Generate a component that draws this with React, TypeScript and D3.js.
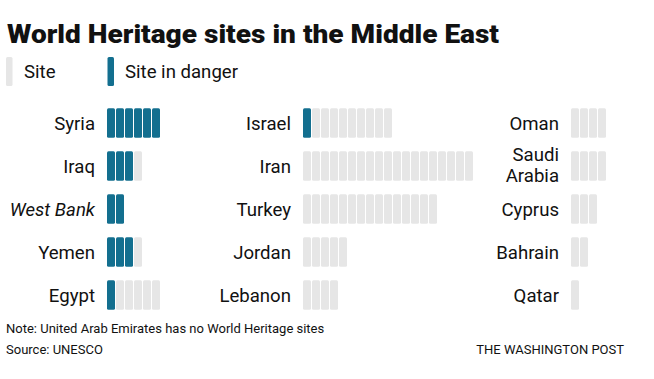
import React from "react";
import * as d3 from "d3";

const col1 = ["Syria", "Iraq", "West Bank", "Yemen", "Egypt"];
const col2 = ["Israel", "Iran", "Turkey", "Jordan", "Lebanon"];
const col3 = ["Oman", "Saudi Arabia", "Cyprus", "Bahrain", "Qatar"];

const totalSites: Record<string, number> = {
  Syria: 6, Iraq: 4, "West Bank": 2, Yemen: 4, Egypt: 6,
  Israel: 10, Iran: 19, Turkey: 15, Jordan: 5, Lebanon: 4,
  Oman: 4, "Saudi Arabia": 4, Cyprus: 3, Bahrain: 2, Qatar: 1,
};
const dangerSites: Record<string, number> = {
  Syria: 6, Iraq: 3, "West Bank": 2, Yemen: 3, Egypt: 1,
  Israel: 1, Iran: 0, Turkey: 0, Jordan: 0, Lebanon: 0,
  Oman: 0, "Saudi Arabia": 0, Cyprus: 0, Bahrain: 0, Qatar: 0,
};

const BLUE = "#136f8f";
const GREY = "#e6e6e6";
const FONT = "Roboto, 'Noto Sans', sans-serif";
const LABEL = 18.6;

const columns = [
  { names: col1, labelRight: 95, barStart: 107 },
  { names: col2, labelRight: 291, barStart: 303 },
  { names: col3, labelRight: 559, barStart: 571 },
];

export default function App() {
  const y = d3.scaleBand<number>().domain([0, 1, 2, 3, 4]).range([101.5, 316.5]);
  const xi = d3.scaleLinear().domain([0, 1]).range([0, 9]);
  const barW = 8;
  const barH = 29.5;

  return (
    <svg width={654} height={379} style={{ position: "absolute", left: 0, top: 0, background: "#fff" }}>
      <text x={7} y={43} fontFamily={FONT} fontWeight={900} fontSize={25.5} fill="#111" textLength={492} lengthAdjust="spacingAndGlyphs">
        World Heritage sites in the Middle East
      </text>
      <rect x={6} y={57} width={6.5} height={29} rx={1.5} fill={GREY} />
      <text x={24} y={78} fontFamily={FONT} fontSize={LABEL} fill="#111">Site</text>
      <rect x={107.5} y={57} width={6.5} height={29} rx={1.5} fill={BLUE} />
      <text x={125} y={78} fontFamily={FONT} fontSize={LABEL} fill="#111">Site in danger</text>

      {columns.map((c, ci) => (
        <g key={ci}>
          {c.names.map((n, ri) => {
            const cy = (y(ri) as number) + y.bandwidth() / 2;
            const total = totalSites[n];
            const danger = dangerSites[n];
            const lines = n === "Saudi Arabia" ? ["Saudi", "Arabia"] : [n];
            return (
              <g key={n}>
                {lines.map((l, li) => (
                  <text
                    key={l}
                    x={c.labelRight}
                    y={lines.length === 1 ? cy + 6.5 : cy - 5 + li * 21}
                    textAnchor="end"
                    fontFamily={FONT}
                    fontSize={LABEL}
                    fontStyle={n === "West Bank" ? "italic" : "normal"}
                    fill="#111"
                  >
                    {l}
                  </text>
                ))}
                {d3.range(total).map((i) => (
                  <rect
                    key={i}
                    x={c.barStart + xi(i)}
                    y={cy - barH / 2}
                    width={barW}
                    height={barH}
                    rx={1.5}
                    fill={i < danger ? BLUE : GREY}
                  />
                ))}
              </g>
            );
          })}
        </g>
      ))}

      <text x={6} y={333} fontFamily={FONT} fontSize={13} fill="#111">
        Note: United Arab Emirates has no World Heritage sites
      </text>
      <text x={6} y={354} fontFamily={FONT} fontSize={13} fill="#111">Source: UNESCO</text>
      <text x={624} y={354} textAnchor="end" fontFamily={FONT} fontSize={13} fill="#111">THE WASHINGTON POST</text>
    </svg>
  );
}
